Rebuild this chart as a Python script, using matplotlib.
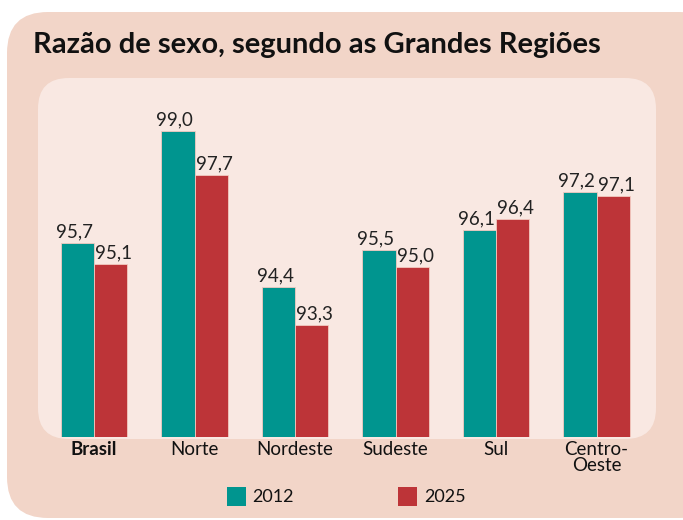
import matplotlib
matplotlib.use('Agg')
from matplotlib import pyplot as plt
from matplotlib.patches import FancyBboxPatch, Rectangle
import numpy as np

regions = ['Brasil', 'Norte', 'Nordeste', 'Sudeste', 'Sul', 'Centro-\nOeste']
values_2012 = [95.7, 99.0, 94.4, 95.5, 96.1, 97.2]
values_2025 = [95.1, 97.7, 93.3, 95.0, 96.4, 97.1]
years = ['2012', '2025']

teal = '#00958f'
red = '#bd3438'
outer_bg = '#f2d5c8'
inner_bg = '#f9e8e2'
W, H = 683, 520

plt.rcParams['font.family'] = ['Lato', 'DejaVu Sans']

fig = plt.figure(figsize=(W / 100, H / 100), dpi=100)
fig.patch.set_facecolor('white')


def px_box(x0, y0, x1, y1):
    # pixel box (top-left origin) -> figure fraction
    return x0 / W, 1 - y1 / H, (x1 - x0) / W, (y1 - y0) / H


# outer panel
bx, by, bw, bh = px_box(7, 12, 720, 518)
fig.patches.append(FancyBboxPatch((bx, by), bw, bh, boxstyle='round,pad=0,rounding_size=0.06',
                                  transform=fig.transFigure, facecolor=outer_bg, edgecolor='none',
                                  mutation_aspect=W / H, zorder=0))
# inner panel
bx, by, bw, bh = px_box(38, 78, 656, 439)
fig.patches.append(FancyBboxPatch((bx, by), bw, bh, boxstyle='round,pad=0,rounding_size=0.045',
                                  transform=fig.transFigure, facecolor=inner_bg, edgecolor='none',
                                  mutation_aspect=W / H, zorder=1))

fig.text(33 / W, 1 - 45 / H, 'Razão de sexo, segundo as Grandes Regiões', fontsize=21,
         fontweight='bold', color='#111111', va='center', ha='left')

ax = fig.add_axes(px_box(38, 78, 656, 437))
ax.set_zorder(5)
ax.patch.set_visible(False)
for s in ax.spines.values():
    s.set_visible(False)

x = np.arange(len(regions))
bw_ = 0.33
ax.bar(x - bw_ / 2, np.array(values_2012) - 90, bw_, bottom=90, color=teal,
       edgecolor='#f3c9c0', linewidth=0.6, label=years[0])
ax.bar(x + bw_ / 2, np.array(values_2025) - 90, bw_, bottom=90, color=red,
       edgecolor='#f3c9c0', linewidth=0.6, label=years[1])

for xi, v in zip(x, values_2012):
    ax.text(xi - bw_ / 2 - 0.03, v + 0.08, f'{v:.1f}'.replace('.', ','), ha='center', va='bottom',
            fontsize=13.5, color='#222222')
for xi, v in zip(x, values_2025):
    ax.text(xi + bw_ / 2 + 0.03, v + 0.08, f'{v:.1f}'.replace('.', ','), ha='center', va='bottom',
            fontsize=13.5, color='#222222')

ax.set_xlim((38 - 94) / 100.5, (656 - 94) / 100.5)
ax.set_ylim(90, 90 + (437 - 78) / 34.0)
ax.set_yticks([])
ax.set_xticks(x)
ax.set_xticklabels(regions, fontsize=13.5, color='#111111', linespacing=0.9, va='top')
ax.tick_params(axis='x', length=0, pad=3)
ax.get_xticklabels()[0].set_fontweight('bold')

# legend
for (lx, tx, col, lab) in [(227, 252, teal, years[0]), (398, 424, red, years[1])]:
    rx, ry, rw, rh = px_box(lx, 487, lx + 19, 506)
    fig.patches.append(Rectangle((rx, ry), rw, rh, transform=fig.transFigure,
                                 facecolor=col, edgecolor='none', zorder=3))
    fig.text(tx / W, 1 - 497 / H, lab, fontsize=13, color='#111111', va='center', ha='left')

fig.savefig('out.png', dpi=100)
